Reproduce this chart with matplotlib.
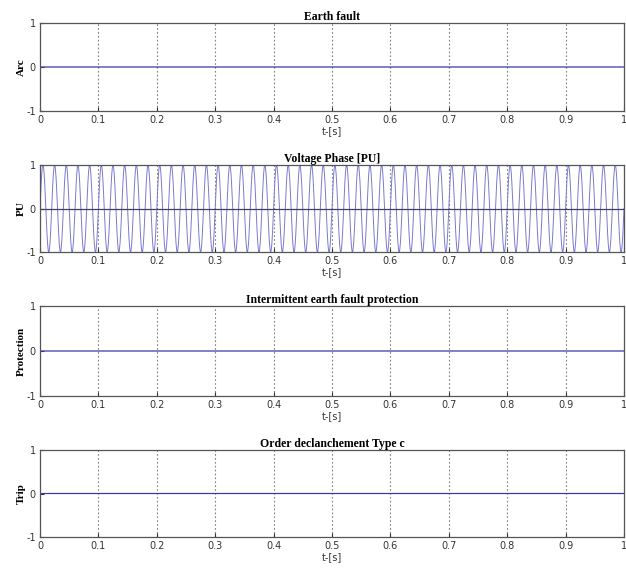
import numpy as np
import matplotlib
matplotlib.use("Agg")
from matplotlib import pyplot as plt

plt.rcParams["axes.unicode_minus"] = False

# ---------------- data ----------------
titles = ["Earth fault", "Voltage Phase [PU]",
          "Intermittent earth fault protection", "Order declanchement Type c"]
ylabels = ["Arc", "PU", "Protection", "Trip"]
xticks = [0, 0.1, 0.2, 0.3, 0.4, 0.5, 0.6, 0.7, 0.8, 0.9, 1]
yticks = [-1, 0, 1]

t_end = 1.0
arc_level = 0.0          # earth fault signal stays at 0
protection_level = 0.0   # protection signal stays at 0
trip_level = 0.0         # trip order stays at 0
voltage_freq = 50        # Hz, ~5 cycles per 0.1 s
voltage_amp = 1.0        # PU

t = np.linspace(0, t_end, 2001)
voltage = voltage_amp * np.sin(2 * np.pi * voltage_freq * t)

series = [np.full_like(t, arc_level), voltage,
          np.full_like(t, protection_level), np.full_like(t, trip_level)]

# ---------------- figure ----------------
W, H = 626, 572
fig = plt.figure(figsize=(W / 100, H / 100), dpi=100)

# (top, bottom) in pixels of each axes box
boxes = [(23, 111), (165, 252), (306, 396), (450, 537)]
left, right = 40, 624

serif = "Liberation Serif"
line_col = "#3a3aa8"

for i, (top, bot) in enumerate(boxes):
    ax = fig.add_axes([left / W, 1 - bot / H, (right - left) / W, (bot - top) / H])
    if i == 1:
        ax.plot(t, series[i], color="#7a7ad0", lw=0.7)
        ax.axhline(0, color="#404060", lw=0.9)
    else:
        ax.plot(t, series[i], color=line_col, lw=0.9)
    ax.set_xlim(0, t_end)
    ax.set_ylim(-1, 1)
    ax.set_xticks(xticks)
    ax.set_xticklabels([f"{x:g}" for x in xticks])
    ax.set_yticks(yticks)
    ax.tick_params(direction="in", length=3, labelsize=7, colors="#333333", pad=3)
    ax.grid(axis="x", linestyle=(0, (1.5, 2)), color="#808080", lw=0.8)
    for s in ax.spines.values():
        s.set_color("#555555")
        s.set_linewidth(0.9)
    ax.set_title(titles[i], fontsize=8.5, family=serif, fontweight="bold", pad=2)
    ax.set_ylabel(ylabels[i], fontsize=8, family=serif, fontweight="bold", labelpad=0)
    ax.set_xlabel("t-[s]", fontsize=7, labelpad=1, color="#333333")

fig.savefig("out.png", dpi=100)
